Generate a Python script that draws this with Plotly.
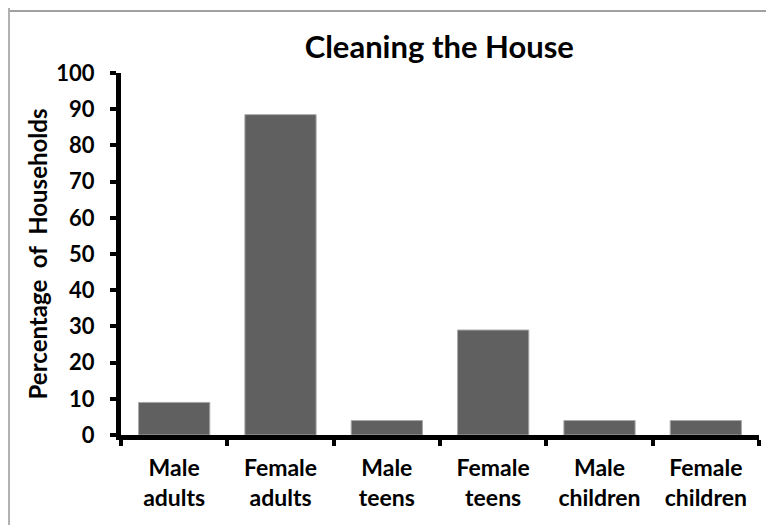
import plotly.graph_objects as go

# Chart data
categories = ['Male<br>adults', 'Female<br>adults', 'Male<br>teens',
              'Female<br>teens', 'Male<br>children', 'Female<br>children']
percentages = [9, 88.5, 4, 29, 4, 4]
y_ticks = [0, 10, 20, 30, 40, 50, 60, 70, 80, 90, 100]

FONT = 'Lato'

fig = go.Figure(go.Bar(
    x=categories,
    y=percentages,
    marker=dict(color='#606060', line=dict(color='#a8a8a8', width=1)),
))

# page body has an 8px margin, so the figure is 8px smaller each way
fig.update_layout(
    width=766, height=517,
    margin=dict(l=113, r=15, t=65, b=90),
    paper_bgcolor='white', plot_bgcolor='white',
    bargap=0.33,
    showlegend=False,
    font=dict(family=FONT, color='black', size=20),
    title=dict(text='<b>Cleaning the House</b>', x=0.563, xanchor='center',
               y=0.925, yanchor='middle', font=dict(size=31, family=FONT)),
)

fig.update_xaxes(
    showline=True, linecolor='black', linewidth=5,
    ticks='outside', tickson='boundaries', ticklen=6, tickwidth=4, tickcolor='black',
    tickfont=dict(size=23, family=FONT, weight='bold'),
    ticklabelstandoff=8,
    showgrid=False, zeroline=False,
)

fig.update_yaxes(
    range=[0, 100], tickvals=y_ticks,
    showline=True, linecolor='black', linewidth=5,
    ticks='outside', ticklen=6, tickwidth=4, tickcolor='black',
    tickfont=dict(size=22, family=FONT, weight='bold'),
    ticklabelstandoff=11,
    title=dict(text='<b>Percentage\u00a0\u00a0of\u00a0\u00a0Households</b>',
               font=dict(size=24, family=FONT), standoff=3),
    showgrid=False, zeroline=False,
)

# outer frame lines of the original sheet
fig.add_shape(type='line', xref='paper', yref='paper', x0=-0.2, x1=1.1,
              y0=1.171, y1=1.171, line=dict(color='#a0a0a0', width=2))
fig.add_shape(type='line', xref='paper', yref='paper', x0=-0.1755, x1=-0.1755,
              y0=-0.3, y1=1.25, line=dict(color='#b0b0b0', width=2))

fig.write_html("out.html")
